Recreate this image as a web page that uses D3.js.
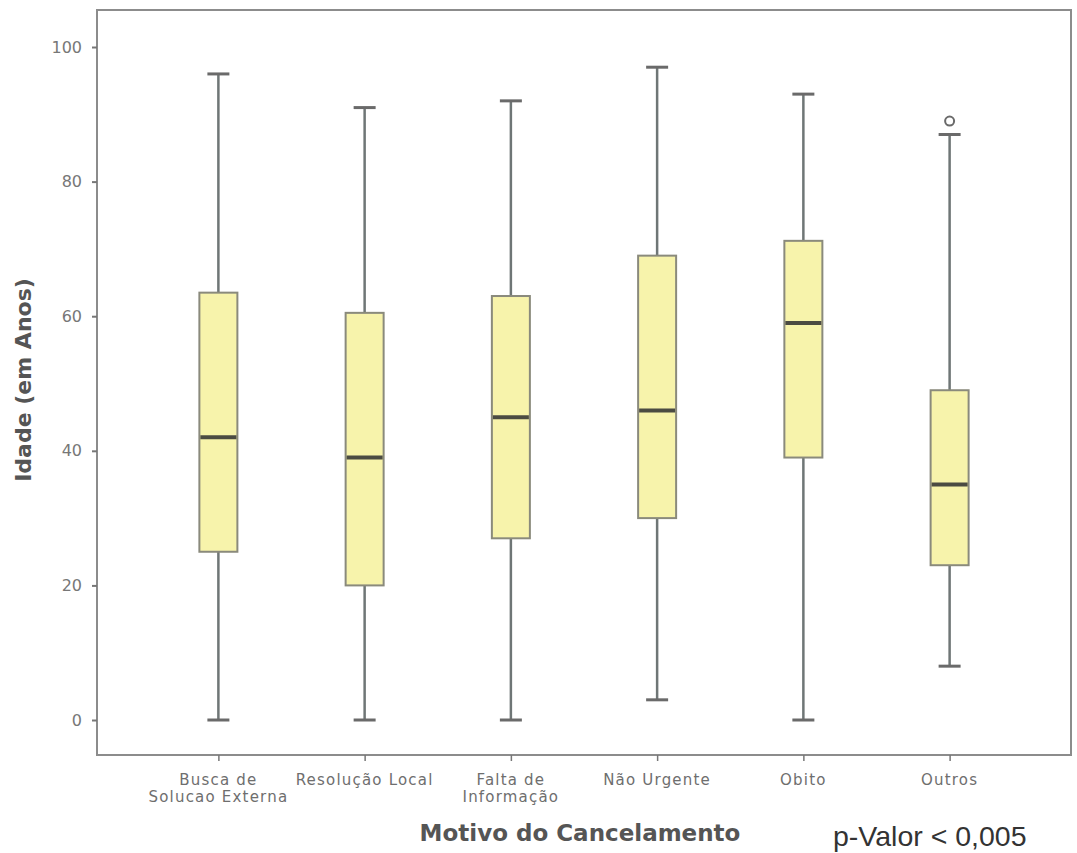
<!DOCTYPE html>
<html>
<head>
<meta charset="utf-8">
<script src="https://cdn.jsdelivr.net/npm/d3@7"></script>
<style>
  body { margin: 0; background: #fff; }
  svg { display: block; }
</style>
</head>
<body>
<div id="chart"></div>
<script>
// values
const categories = [["Busca de", "Solucao Externa"], ["Resolução Local"], ["Falta de", "Informação"], ["Não Urgente"], ["Obito"], ["Outros"]];
const mins = [0, 0, 0, 3, 0, 8];
const q1s = [25, 20, 27, 30, 39, 23];
const medians = [42, 39, 45, 46, 59, 35];
const q3s = [63.5, 60.5, 63, 69, 71.2, 49];
const maxs = [96, 91, 92, 97, 93, 87];
const outliers = [[], [], [], [], [], [89]];
const yTicks = [0, 20, 40, 60, 80, 100];

const width = 1077, height = 853;
const plotLeft = 97, plotRight = 1071, plotTop = 10, plotBottom = 755;

const svg = d3.select("#chart").append("svg")
    .attr("width", width)
    .attr("height", height);

const x = d3.scalePoint()
    .domain(d3.range(categories.length))
    .range([plotLeft, plotRight])
    .padding(0.83);

const y = d3.scaleLinear()
    .domain([-5.2, 105.5])
    .range([plotBottom, plotTop]);

// frame
svg.append("rect")
    .attr("x", plotLeft).attr("y", plotTop)
    .attr("width", plotRight - plotLeft).attr("height", plotBottom - plotTop)
    .attr("fill", "none")
    .attr("stroke", "#8c8c8c")
    .attr("stroke-width", 2);

// y axis
const yAxis = svg.append("g")
    .attr("transform", `translate(${plotLeft},0)`)
    .call(d3.axisLeft(y).tickValues(yTicks).tickSize(5).tickSizeOuter(0));
yAxis.select(".domain").remove();
yAxis.selectAll(".tick line").attr("stroke", "#777").attr("stroke-width", 2);
yAxis.selectAll(".tick text")
    .attr("fill", "#777")
    .attr("x", -15)
    .style("font-size", "16px")
    .style("font-family", "'DejaVu Sans', sans-serif");

// x axis
const xAxis = svg.append("g")
    .attr("transform", `translate(0,${plotBottom})`)
    .call(d3.axisBottom(x).tickSize(6).tickSizeOuter(0).tickFormat(""));
xAxis.select(".domain").remove();
xAxis.selectAll(".tick line").attr("stroke", "#777").attr("stroke-width", 1.5);

const labels = svg.append("g");
categories.forEach((lines, i) => {
    const t = labels.append("text")
        .attr("x", x(i))
        .attr("y", 785)
        .attr("text-anchor", "middle")
        .attr("fill", "#6e6e6e")
        .style("font-size", "15px")
        .style("letter-spacing", "1.2px")
        .style("font-family", "'DejaVu Sans', sans-serif");
    lines.forEach((line, j) => {
        t.append("tspan")
            .attr("x", x(i))
            .attr("dy", j === 0 ? 0 : 17)
            .text(line);
    });
});

// boxes
const boxW = 38, capW = 22;
const boxes = svg.append("g").selectAll("g")
    .data(d3.range(categories.length))
    .enter()
    .append("g");

boxes.append("line")
    .attr("x1", i => x(i)).attr("x2", i => x(i))
    .attr("y1", i => y(maxs[i])).attr("y2", i => y(q3s[i]))
    .attr("stroke", "#6f7676").attr("stroke-width", 2.5);

boxes.append("line")
    .attr("x1", i => x(i)).attr("x2", i => x(i))
    .attr("y1", i => y(q1s[i])).attr("y2", i => y(mins[i]))
    .attr("stroke", "#6f7676").attr("stroke-width", 2.5);

boxes.append("line")
    .attr("x1", i => x(i) - capW / 2).attr("x2", i => x(i) + capW / 2)
    .attr("y1", i => y(maxs[i])).attr("y2", i => y(maxs[i]))
    .attr("stroke", "#6a6a6a").attr("stroke-width", 3);

boxes.append("line")
    .attr("x1", i => x(i) - capW / 2).attr("x2", i => x(i) + capW / 2)
    .attr("y1", i => y(mins[i])).attr("y2", i => y(mins[i]))
    .attr("stroke", "#6a6a6a").attr("stroke-width", 3);

boxes.append("rect")
    .attr("x", i => x(i) - boxW / 2)
    .attr("y", i => y(q3s[i]))
    .attr("width", boxW)
    .attr("height", i => y(q1s[i]) - y(q3s[i]))
    .attr("fill", "#f7f3ab")
    .attr("stroke", "#8a8a7c")
    .attr("stroke-width", 2);

boxes.append("line")
    .attr("x1", i => x(i) - boxW / 2 + 1).attr("x2", i => x(i) + boxW / 2 - 1)
    .attr("y1", i => y(medians[i])).attr("y2", i => y(medians[i]))
    .attr("stroke", "#4b4b42").attr("stroke-width", 4);

boxes.selectAll("circle")
    .data(i => outliers[i].map(v => ({ i: i, v: v })))
    .enter()
    .append("circle")
    .attr("cx", d => x(d.i))
    .attr("cy", d => y(d.v))
    .attr("r", 4.5)
    .attr("fill", "none")
    .attr("stroke", "#6a6a6a")
    .attr("stroke-width", 2);

// titles
svg.append("text")
    .attr("transform", "translate(31,380) rotate(-90)")
    .attr("text-anchor", "middle")
    .attr("fill", "#555")
    .style("font-size", "22px")
    .style("font-weight", "bold")
    .style("font-family", "'DejaVu Sans', sans-serif")
    .text("Idade (em Anos)");

svg.append("text")
    .attr("x", 580)
    .attr("y", 841)
    .attr("text-anchor", "middle")
    .attr("fill", "#555")
    .style("font-size", "23px")
    .style("font-weight", "bold")
    .style("font-family", "'DejaVu Sans', sans-serif")
    .text("Motivo do Cancelamento");

svg.append("text")
    .attr("x", 833)
    .attr("y", 846)
    .attr("fill", "#333")
    .style("font-size", "28.5px")
    .style("font-family", "'Liberation Sans', Arial, sans-serif")
    .text("p-Valor < 0,005");
</script>
</body>
</html>
